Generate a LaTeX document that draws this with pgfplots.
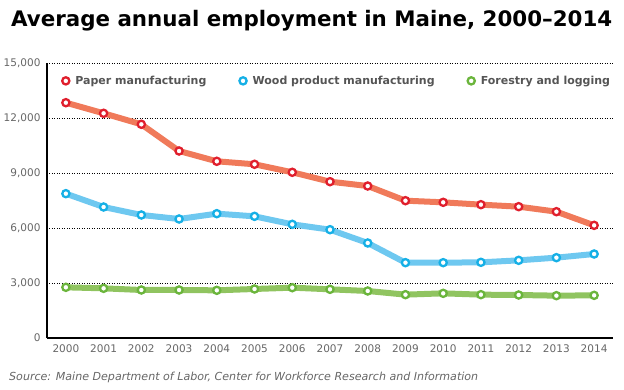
\documentclass[border=0pt]{standalone}
\usepackage{fontspec}
\setmainfont{DejaVu Sans}
\usepackage{pgfplots}
\pgfplotsset{compat=1.18}
\definecolor{paperline}{HTML}{F07A5A}
\definecolor{papermark}{HTML}{E01F2D}
\definecolor{woodline}{HTML}{6EC8F0}
\definecolor{woodmark}{HTML}{16B0E6}
\definecolor{forline}{HTML}{90C460}
\definecolor{formark}{HTML}{6BB53C}
\definecolor{ticktext}{HTML}{666666}
\definecolor{legtext}{HTML}{555555}
\newcommand{\tl}[1]{\textnormal{\fontsize{10.5}{12}\selectfont\color{ticktext}#1}}
\begin{document}
\begin{tikzpicture}
\path[use as bounding box] (-47pt,-52pt) rectangle (577pt,338pt);
\begin{axis}[
  at={(0pt,0pt)}, anchor=south west,
  scale only axis, width=566pt, height=275pt,
  xmin=1999.5, xmax=2014.5, ymin=0, ymax=15000,
  axis x line*=bottom, axis y line*=left,
  axis line style={black, line width=1.2pt, -},
  xtick={2000,...,2014},
  xticklabels={\tl{2000},\tl{2001},\tl{2002},\tl{2003},\tl{2004},\tl{2005},\tl{2006},\tl{2007},\tl{2008},\tl{2009},\tl{2010},\tl{2011},\tl{2012},\tl{2013},\tl{2014}},
  ytick={0,3000,6000,9000,12000,15000},
  yticklabels={\tl{0},\tl{3,000},\tl{6,000},\tl{9,000},\tl{12,000},\tl{15,000}},
  scaled y ticks=false, scaled x ticks=false,
  xticklabel style={yshift=-3pt},
  yticklabel style={xshift=-3pt},
  major tick length=0pt,
  ymajorgrids,
  major grid style={black, line width=0.9pt, dash pattern=on 0.9pt off 1.6pt},
  clip=false,
  legend style={at={(0.0265,0.935)}, anchor=west, draw=none, fill=none,
    font=\fontsize{11}{13}\selectfont\bfseries, text=legtext,
    legend columns=-1,
    /tikz/every odd column/.append style={column sep=4pt},
    /tikz/every even column/.append style={column sep=31pt},
    inner sep=0pt},
  legend image code/.code={\draw[#1] plot coordinates {(0pt,0pt)};},
  legend cell align=left,
]
\addplot[paperline, line width=6pt, forget plot] coordinates {
(2000,12835) (2001,12256) (2002,11656) (2003,10200) (2004,9638) (2005,9475) (2006,9038) (2007,8527) (2008,8290) (2009,7490) (2010,7400) (2011,7273) (2012,7164) (2013,6891) (2014,6145)};
\addplot[woodline, line width=6pt, forget plot] coordinates {
(2000,7873) (2001,7145) (2002,6709) (2003,6491) (2004,6782) (2005,6636) (2006,6200) (2007,5909) (2008,5182) (2009,4109) (2010,4109) (2011,4127) (2012,4236) (2013,4382) (2014,4582)};
\addplot[forline, line width=6pt, forget plot] coordinates {
(2000,2764) (2001,2709) (2002,2618) (2003,2618) (2004,2600) (2005,2673) (2006,2745) (2007,2655) (2008,2564) (2009,2364) (2010,2436) (2011,2364) (2012,2345) (2013,2309) (2014,2327)};
\addplot[only marks, mark=*, mark size=3.6pt, mark options={draw=papermark, fill=white, line width=2.3pt}] coordinates {
(2000,12835) (2001,12256) (2002,11656) (2003,10200) (2004,9638) (2005,9475) (2006,9038) (2007,8527) (2008,8290) (2009,7490) (2010,7400) (2011,7273) (2012,7164) (2013,6891) (2014,6145)};
\addlegendentry{Paper manufacturing}
\addplot[only marks, mark=*, mark size=3.6pt, mark options={draw=woodmark, fill=white, line width=2.3pt}] coordinates {
(2000,7873) (2001,7145) (2002,6709) (2003,6491) (2004,6782) (2005,6636) (2006,6200) (2007,5909) (2008,5182) (2009,4109) (2010,4109) (2011,4127) (2012,4236) (2013,4382) (2014,4582)};
\addlegendentry{Wood product manufacturing}
\addplot[only marks, mark=*, mark size=3.6pt, mark options={draw=formark, fill=white, line width=2.3pt}] coordinates {
(2000,2764) (2001,2709) (2002,2618) (2003,2618) (2004,2600) (2005,2673) (2006,2745) (2007,2655) (2008,2564) (2009,2364) (2010,2436) (2011,2364) (2012,2345) (2013,2309) (2014,2327)};
\addlegendentry{Forestry and logging}
\end{axis}
\node[anchor=base west, inner sep=0pt] at (-36pt,311pt) {\resizebox{601pt}{!}{\fontsize{20}{24}\selectfont\bfseries Average annual employment in Maine, 2000–2014}};
\node[anchor=base west, inner sep=0pt, text=ticktext] at (-38pt,-43pt) {\resizebox{469pt}{!}{\fontsize{10}{12}\selectfont\itshape Source: Maine Department of Labor, Center for Workforce Research and Information}};
\end{tikzpicture}
\end{document}
